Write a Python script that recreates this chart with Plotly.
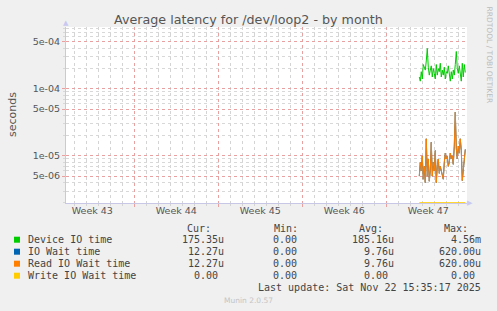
import numpy as np
import pandas as pd
import plotly.graph_objects as go

# ---------------- data ----------------
TITLE = "Average latency for /dev/loop2 - by month"
week_labels = ["Week 43", "Week 44", "Week 45", "Week 46", "Week 47"]
week_label_times = ["2025-10-22 12:00", "2025-10-29 12:00", "2025-11-05 12:00",
                    "2025-11-12 12:00", "2025-11-19 12:00"]
y_tick_vals = [5e-6, 1e-5, 5e-5, 1e-4, 5e-4]
y_tick_text = ["5e-06", "1e-05", "5e-05", "1e-04", "5e-04"]

data_start = "2025-11-18 18:00"
data_step = "2h"

device_io = [1.5e-4, 1.3e-4, 1.8e-4, 1.4e-4, 2.3e-4, 2.0e-4, 1.9e-4, 2.6e-4, 4.0e-4,
             2.1e-4, 1.6e-4, 1.9e-4, 2.2e-4, 1.5e-4, 2.0e-4, 1.7e-4, 1.4e-4, 2.3e-4,
             1.6e-4, 2.0e-4, 1.8e-4, 2.4e-4, 1.5e-4, 1.9e-4, 1.6e-4, 2.1e-4, 1.4e-4,
             1.8e-4, 1.7e-4, 2.2e-4, 1.5e-4, 1.3e-4, 1.8e-4, 1.4e-4, 1.9e-4, 1.6e-4,
             2.3e-4, 3.6e-4, 2.0e-4, 1.7e-4, 2.2e-4, 1.6e-4, 1.3e-4, 2.4e-4, 1.5e-4,
             2.3e-4, 1.75e-4]
read_wait = [5e-6, 8e-6, 6e-6, 1.0e-5, 4.5e-6, 7e-6, 4e-6, 1.8e-5, 5e-6, 9e-6,
             4.2e-6, 6e-6, 1.6e-5, 5e-6, 8e-6, 6e-6, 1.2e-5, 4e-6, 7e-6, 9e-6,
             5.5e-6, 7e-6, 6e-6, 5e-6, 4.5e-6, 8e-6, 1.1e-5, 9e-6, 1.0e-5, 7e-6,
             8e-6, 1.1e-5, 9e-6, 1.0e-5, 7.5e-6, 1.4e-5, 4.5e-5, 1.3e-5, 9e-6,
             1.4e-5, 1.1e-5, 1.8e-5, 1.2e-5, 4.3e-6, 6e-6, 1.0e-5, 1.25e-5]
io_wait = list(read_wait)
write_wait = [0.0] * len(device_io)

legend_names = ["Device IO time", "IO Wait time", "Read IO Wait time", "Write IO Wait time"]
legend_cur = ["175.35u", "12.27u", "12.27u", "0.00\u00a0"]
legend_min = ["0.00\u00a0", "0.00\u00a0", "0.00\u00a0", "0.00\u00a0"]
legend_avg = ["185.16u", "9.76u", "9.76u", "0.00\u00a0"]
legend_max = ["4.56m", "620.00u", "620.00u", "0.00\u00a0"]
colors = ["#00CC00", "#0066B3", "#FF8000", "#FFCC00"]
last_update = "Last update: Sat Nov 22 15:35:17 2025"

# ---------------- layout geometry ----------------
FIG_W, FIG_H = 497, 311
L, T, W, H = 66, 27, 401, 176
Y_MIN, Y_MAX = -5.7015, -3.079
X_RANGE = ["2025-10-20 07:25", "2025-11-22 17:25"]


def px(x):
    return (x - L) / W


def py(y):
    return (T + H - y) / H


times = pd.date_range(data_start, periods=len(device_io), freq=data_step)

fig = go.Figure()
# Write IO wait is zero: on a log scale it sits on the bottom edge (as rrdtool draws it)
fig.add_trace(go.Scatter(x=times, y=np.maximum(np.array(write_wait), 10 ** Y_MIN * 1.01),
                         mode="lines", line=dict(color=colors[3], width=1),
                         xaxis="x2", hoverinfo="skip"))
fig.add_trace(go.Scatter(x=times, y=device_io, mode="lines",
                         line=dict(color=colors[0], width=1)))
fig.add_trace(go.Scatter(x=times, y=io_wait, mode="lines",
                         line=dict(color=colors[1], width=1)))
fig.add_trace(go.Scatter(x=times, y=read_wait, mode="lines",
                         line=dict(color=colors[2], width=1)))

minor_y = [m * 10.0 ** d for d in range(-7, -2) for m in (2, 3, 4, 6, 7, 8, 9)]

axis_line = "#C8C8E6"
tick_font = dict(family="DejaVu Sans", size=9.5, color="#555555")

fig.update_layout(
    width=FIG_W, height=FIG_H,
    margin=dict(l=L, r=FIG_W - L - W, t=T, b=FIG_H - T - H, pad=0),
    paper_bgcolor="#F0F0F0", plot_bgcolor="#FFFFFF",
    showlegend=False,
    xaxis=dict(
        type="date", range=X_RANGE,
        tickmode="linear", tick0="2025-10-19", dtick=7 * 86400000,
        showticklabels=False,
        showgrid=True, gridcolor="#E8A0A0", griddash="dot", gridwidth=1,
        ticks="outside", ticklen=3, tickcolor="#E8A0A0",
        minor=dict(tickmode="linear", tick0="2025-10-19", dtick=86400000,
                   showgrid=True, gridcolor="#D4D4D4", griddash="dot", gridwidth=1,
                   ticks="outside", ticklen=2, tickcolor="#D4D4D4"),
        showline=True, linecolor=axis_line, linewidth=1,
        zeroline=False, fixedrange=True,
    ),
    xaxis2=dict(
        type="date", range=X_RANGE, overlaying="x", anchor="y", side="bottom",
        tickmode="array", tickvals=week_label_times, ticktext=week_labels,
        showgrid=False, ticks="", tickfont=tick_font, showline=False, zeroline=False,
        fixedrange=True,
    ),
    yaxis=dict(
        type="log", range=[Y_MIN, Y_MAX],
        tickmode="array", tickvals=y_tick_vals, ticktext=y_tick_text,
        tickfont=tick_font,
        showgrid=True, gridcolor="#E8A0A0", griddash="dot", gridwidth=1,
        ticks="outside", ticklen=3, tickcolor="#E8A0A0",
        minor=dict(tickmode="array", tickvals=minor_y, showgrid=True,
                   gridcolor="#D8D8D8", griddash="dot", gridwidth=1,
                   ticks="outside", ticklen=2, tickcolor="#D8D8D8"),
        showline=True, linecolor=axis_line, linewidth=1,
        zeroline=False, fixedrange=True,
    ),
)

ann = []
# title
ann.append(dict(text=TITLE, x=px(248), y=py(19), xref="paper", yref="paper",
                showarrow=False, xanchor="center", yanchor="middle",
                font=dict(family="DejaVu Sans", size=12.7, color="#555555")))
# y-axis title
ann.append(dict(text="seconds", x=px(12), y=py(115), xref="paper", yref="paper",
                showarrow=False, textangle=-90, xanchor="center", yanchor="middle",
                font=dict(family="DejaVu Sans", size=11, color="#555555")))
# watermark
ann.append(dict(text="RRDTOOL / TOBI OETIKER", x=px(489), y=py(5), xref="paper",
                yref="paper", showarrow=False, textangle=90, xanchor="center",
                yanchor="top", font=dict(family="DejaVu Sans", size=7.5, color="#BBBBBB")))
# axis arrows
ann.append(dict(text="\u25B2", x=px(66), y=py(23), xref="paper", yref="paper",
                showarrow=False, xanchor="center", yanchor="middle",
                font=dict(family="DejaVu Sans", size=7, color="#C8C8F0")))
ann.append(dict(text="\u25B6", x=px(470), y=py(203), xref="paper", yref="paper",
                showarrow=False, xanchor="center", yanchor="middle",
                font=dict(family="DejaVu Sans", size=7, color="#C8C8F0")))

mono = dict(family="DejaVu Sans Mono", size=10, color="#444444")
hdr_y = 228.3
for txt, xr in zip(["Cur:", "Min:", "Avg:", "Max:"], [213.3, 300, 385, 470]):
    ann.append(dict(text=txt, x=px(xr), y=py(hdr_y), xref="paper", yref="paper",
                    showarrow=False, xanchor="right", yanchor="middle", font=mono))

shapes = []
row_ys = [239.7, 251.7, 263.7, 275.7]
for i, name in enumerate(legend_names):
    ry = row_ys[i]
    shapes.append(dict(type="rect", xref="paper", yref="paper",
                       x0=px(14), x1=px(20), y0=py(ry + 3), y1=py(ry - 3),
                       fillcolor=colors[i], line=dict(width=0)))
    ann.append(dict(text=name, x=px(26), y=py(ry), xref="paper", yref="paper",
                    showarrow=False, xanchor="left", yanchor="middle", font=mono))
    for col, xr in zip([legend_cur, legend_min, legend_avg, legend_max],
                       [226, 305.3, 396, 482.7]):
        ann.append(dict(text=col[i], x=px(xr), y=py(ry), xref="paper", yref="paper",
                        showarrow=False, xanchor="right", yanchor="middle", font=mono))

ann.append(dict(text=last_update, x=px(482.7), y=py(287.3), xref="paper", yref="paper",
                showarrow=False, xanchor="right", yanchor="middle", font=mono))
ann.append(dict(text="Munin 2.0.57", x=px(248), y=py(300), xref="paper", yref="paper",
                showarrow=False, xanchor="center", yanchor="middle",
                font=dict(family="DejaVu Sans", size=7.5, color="#C4C4C4")))

fig.update_layout(annotations=ann, shapes=shapes)
fig.write_html("out.html")
